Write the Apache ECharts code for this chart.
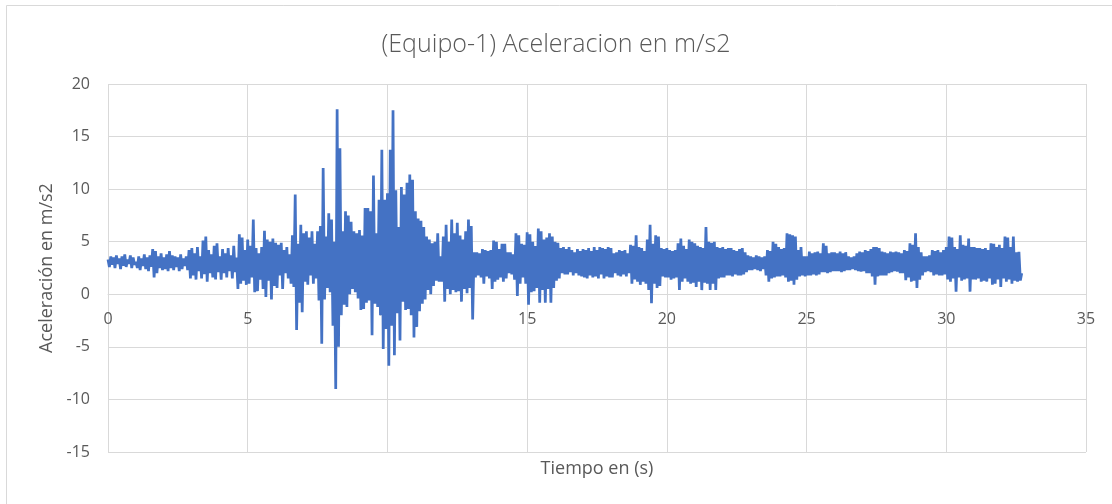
<!DOCTYPE html>
<html>
<head>
<meta charset="utf-8">
<script src="https://cdn.jsdelivr.net/npm/echarts@6/dist/echarts.min.js"></script>
<style>
html,body{margin:0;padding:0;background:#fff;}
#chart{width:1112px;height:504px;}
</style>
</head>
<body>
<div id="chart"></div>
<script>
// Sampling step of the record (s)
var pasoTiempo = 0.05;

// Acceleration readings (m/s2), 0 - 10 s
var aceleracion0a10 = [
  3.3,2.6,3.6,2.8,3.5,2.5,3.7,2.9,3.4,2.4,3.6,2.7,3.8,2.6,3.3,2.9,3.7,2.5,3.5,2.8,
  3.1,2.5,3.6,2.3,3.4,2.7,3.8,2.4,3.5,2.2,3.7,2.6,4.3,1.6,4.1,2.0,3.6,2.5,3.9,2.3,
  3.5,2.4,3.8,2.2,4.1,2.5,3.7,2.3,3.6,2.6,3.5,2.2,3.8,2.4,3.4,2.7,3.6,2.3,4.2,1.5,
  4.4,1.8,3.9,1.4,4.5,2.2,3.6,1.5,5.1,1.9,5.5,1.2,4.2,2.0,3.8,1.6,4.6,1.4,4.85,2.1,
  3.6,1.4,4.3,2.0,3.9,1.6,4.4,2.2,3.7,1.5,4.6,2.1,3.5,0.5,5.7,1.0,5.4,1.3,4.2,0.9,
  5.2,1.0,4.6,1.6,7.1,0.2,4.4,0.3,3.9,1.4,4.5,0.5,6.05,-0.25,5.2,1.3,5.0,-0.5,5.3,0.8,
  4.9,0.6,4.7,1.8,4.9,0.5,4.2,2.0,4.5,1.5,3.8,1.0,5.6,0.7,9.5,-3.4,4.8,-0.8,6.6,-1.7,
  5.8,1.2,6.0,0.9,5.4,1.8,6.0,1.0,4.8,1.5,6.0,-0.6,6.5,-4.7,12.0,-0.5,5.5,0.6,7.7,0.2,
  7.1,-3.0,5.0,-9.0,17.6,-5.0,13.9,-2.0,6.0,-1.0,7.9,-1.2,7.5,0.0,6.9,0.5,6.0,0.2,5.8,-0.4,
  6.1,-1.5,5.6,-1.4,8.2,-0.8,8.2,-0.6,7.9,-3.9,11.3,-0.9,5.8,-1.2,9.0,-2.0,13.75,-5.2,9.0,-3.3
];
// 10 - 20 s
var aceleracion10a20 = [
  9.6,-6.8,13.75,-3.0,17.5,-5.8,9.9,-1.8,6.4,-4.4,10.2,-0.7,9.5,-1.5,10.6,-1.4,11.4,-2.0,10.9,-4.1,
  7.9,-3.1,7.2,-1.6,7.0,-0.9,6.4,-0.5,5.5,0.4,5.2,0.0,4.85,0.8,5.0,1.3,5.8,1.2,3.6,1.2,
  5.5,-0.7,6.6,0.5,5.0,0.0,7.1,0.4,5.8,0.2,6.8,0.3,5.6,-0.7,5.2,0.5,6.0,0.1,7.1,0.6,
  6.5,-2.4,4.0,1.6,4.0,1.8,3.9,1.6,4.3,1.0,4.2,1.7,4.1,1.5,4.2,0.5,5.1,1.2,5.0,1.4,
  4.3,1.6,4.8,1.2,4.8,1.5,4.0,2.0,4.0,1.9,3.8,1.4,5.8,-0.15,5.6,1.0,4.8,1.6,4.7,1.0,
  5.9,-1.0,5.7,0.2,5.0,0.3,4.6,0.6,6.25,-0.8,6.0,0.4,5.2,-0.8,5.4,0.5,5.8,-0.8,5.5,0.6,
  5.0,1.3,4.9,1.5,4.4,2.0,4.5,1.9,4.3,1.9,4.5,2.1,4.2,1.8,4.0,2.0,4.3,1.8,4.1,1.7,
  4.3,1.6,4.2,1.5,4.4,1.8,4.1,1.6,4.5,1.7,4.2,1.5,4.5,1.9,4.4,1.5,4.3,1.7,4.5,1.6,
  4.4,1.6,3.9,2.0,4.0,1.8,4.2,1.7,4.1,1.9,4.2,1.7,3.9,2.0,4.7,1.0,4.6,1.4,5.6,1.2,
  4.5,0.9,4.4,1.2,4.1,1.0,5.2,0.4,6.6,-0.85,4.8,1.0,5.6,0.6,5.5,0.8,4.4,1.7,4.3,1.6
];
// 20 - 32.7 s
var aceleracion20aFin = [
  4.4,1.6,4.2,1.4,4.1,1.5,4.2,1.6,4.85,0.4,5.3,1.2,4.6,1.5,4.3,1.2,5.2,1.0,5.0,1.1,
  4.85,0.7,4.6,1.2,4.5,0.4,4.4,1.1,6.4,1.0,5.0,0.4,4.9,1.0,5.0,0.4,4.5,1.5,4.4,1.6,
  4.5,1.6,4.3,1.8,4.4,1.8,4.4,1.7,4.2,1.9,4.1,1.8,4.3,1.8,4.4,1.9,4.0,2.1,3.7,2.3,
  3.6,2.3,3.5,2.4,3.7,2.3,3.6,2.2,3.5,2.4,3.6,1.8,4.2,1.2,4.1,1.5,5.0,1.6,4.8,1.7,
  4.5,1.7,4.3,1.8,4.4,1.6,5.8,1.2,5.7,1.3,5.6,0.9,5.5,1.4,4.2,1.7,4.5,1.8,3.6,1.7,
  3.6,1.8,4.05,1.8,3.9,1.9,4.0,1.8,4.05,1.9,3.9,2.1,4.85,2.1,4.6,2.0,3.9,2.1,4.0,2.2,
  4.0,2.2,3.9,2.2,4.05,2.1,3.9,2.2,4.0,2.3,3.6,2.3,3.5,2.4,3.6,2.3,3.9,2.2,4.05,2.15,
  4.0,2.2,4.2,2.0,4.1,2.0,4.3,1.7,4.5,0.9,4.5,1.7,4.4,1.8,4.05,1.8,4.0,1.8,3.9,2.0,
  4.05,2.1,4.0,2.2,4.05,2.15,4.0,2.0,3.9,2.0,4.2,1.35,4.1,1.6,4.85,1.2,4.7,1.3,5.8,0.6,
  4.5,1.4,4.0,1.8,3.6,2.1,3.6,2.2,3.7,2.1,4.2,1.8,4.1,1.9,4.2,1.8,4.0,1.8,4.2,1.9,
  4.5,1.4,5.5,1.2,5.4,1.5,4.5,0.25,4.3,1.6,5.6,1.3,4.7,1.4,4.6,1.5,5.3,0.25,4.5,1.4,
  4.5,1.4,4.4,1.5,4.4,1.2,4.3,1.3,4.4,1.2,4.2,1.5,4.85,0.9,4.8,1.0,4.5,1.4,4.7,0.7,
  4.4,1.5,5.5,1.2,5.4,1.4,4.5,1.0,5.5,1.3,4.0,1.2,4.05,1.3,2.0
];

// Axis ticks
var ticksX = [0, 5, 10, 15, 20, 25, 30, 35];
var ticksY = [-15, -10, -5, 0, 5, 10, 15, 20];

var aceleracion = aceleracion0a10.concat(aceleracion10a20, aceleracion20aFin);
var serie = aceleracion.map(function (v, i) {
  return [+(i * pasoTiempo).toFixed(2), v];
});

var textColor = '#595959';
var gridColor = '#d9d9d9';
var fam = '"Open Sans", "Noto Sans", sans-serif';

var chart = echarts.init(document.getElementById('chart'));
chart.setOption({
  animation: false,
  backgroundColor: '#fff',
  title: {
    text: '(Equipo-1) Aceleracion en m/s2',
    left: 'center',
    top: 27,
    textStyle: { color: textColor, fontSize: 25, fontWeight: 300, fontFamily: fam }
  },
  graphic: [{
    type: 'rect', z: -10, silent: true,
    shape: { x: 6.5, y: 5.5, width: 1200, height: 600 },
    style: { fill: 'none', stroke: gridColor, lineWidth: 1 }
  }, {
    type: 'text', silent: true,
    x: 597, y: 469,
    style: {
      text: 'Tiempo en (s)', fill: textColor,
      font: '18px "Open Sans", "Noto Sans", sans-serif',
      textAlign: 'center', textVerticalAlign: 'middle'
    }
  }],
  grid: { left: 108, right: 26, top: 84, bottom: 52, containLabel: false, outerBoundsMode: 'none' },
  xAxis: {
    type: 'value',
    min: ticksX[0], max: ticksX[ticksX.length - 1], interval: 5,
    axisLine: { show: true, onZero: false, lineStyle: { color: gridColor, width: 1 } },
    axisTick: { show: false },
    axisLabel: { color: textColor, fontSize: 16, fontFamily: fam, margin: 17 },
    splitLine: { show: true, lineStyle: { color: gridColor, width: 1 } }
  },
  yAxis: {
    type: 'value',
    min: ticksY[0], max: ticksY[ticksY.length - 1], interval: 5,
    name: 'Aceleración en m/s2',
    nameLocation: 'middle',
    nameGap: 50,
    nameTextStyle: { color: textColor, fontSize: 18, fontFamily: fam },
    axisLine: { show: false },
    axisTick: { show: false },
    axisLabel: { color: textColor, fontSize: 16, fontFamily: fam, margin: 18 },
    splitLine: { show: true, lineStyle: { color: gridColor, width: 1 } }
  },
  series: [{
    type: 'line',
    data: serie,
    showSymbol: false,
    symbol: 'none',
    lineStyle: { color: '#4472C4', width: 2.75 },
    itemStyle: { color: '#4472C4' }
  }]
});

// Move the x axis (line + labels) up to the zero line of the y axis, as in the original
var yCero = chart.convertToPixel({ yAxisIndex: 0 }, 0);
var yFondo = chart.convertToPixel({ yAxisIndex: 0 }, ticksY[0]);
chart.setOption({ xAxis: { offset: -(yFondo - yCero) } });
</script>
</body>
</html>
